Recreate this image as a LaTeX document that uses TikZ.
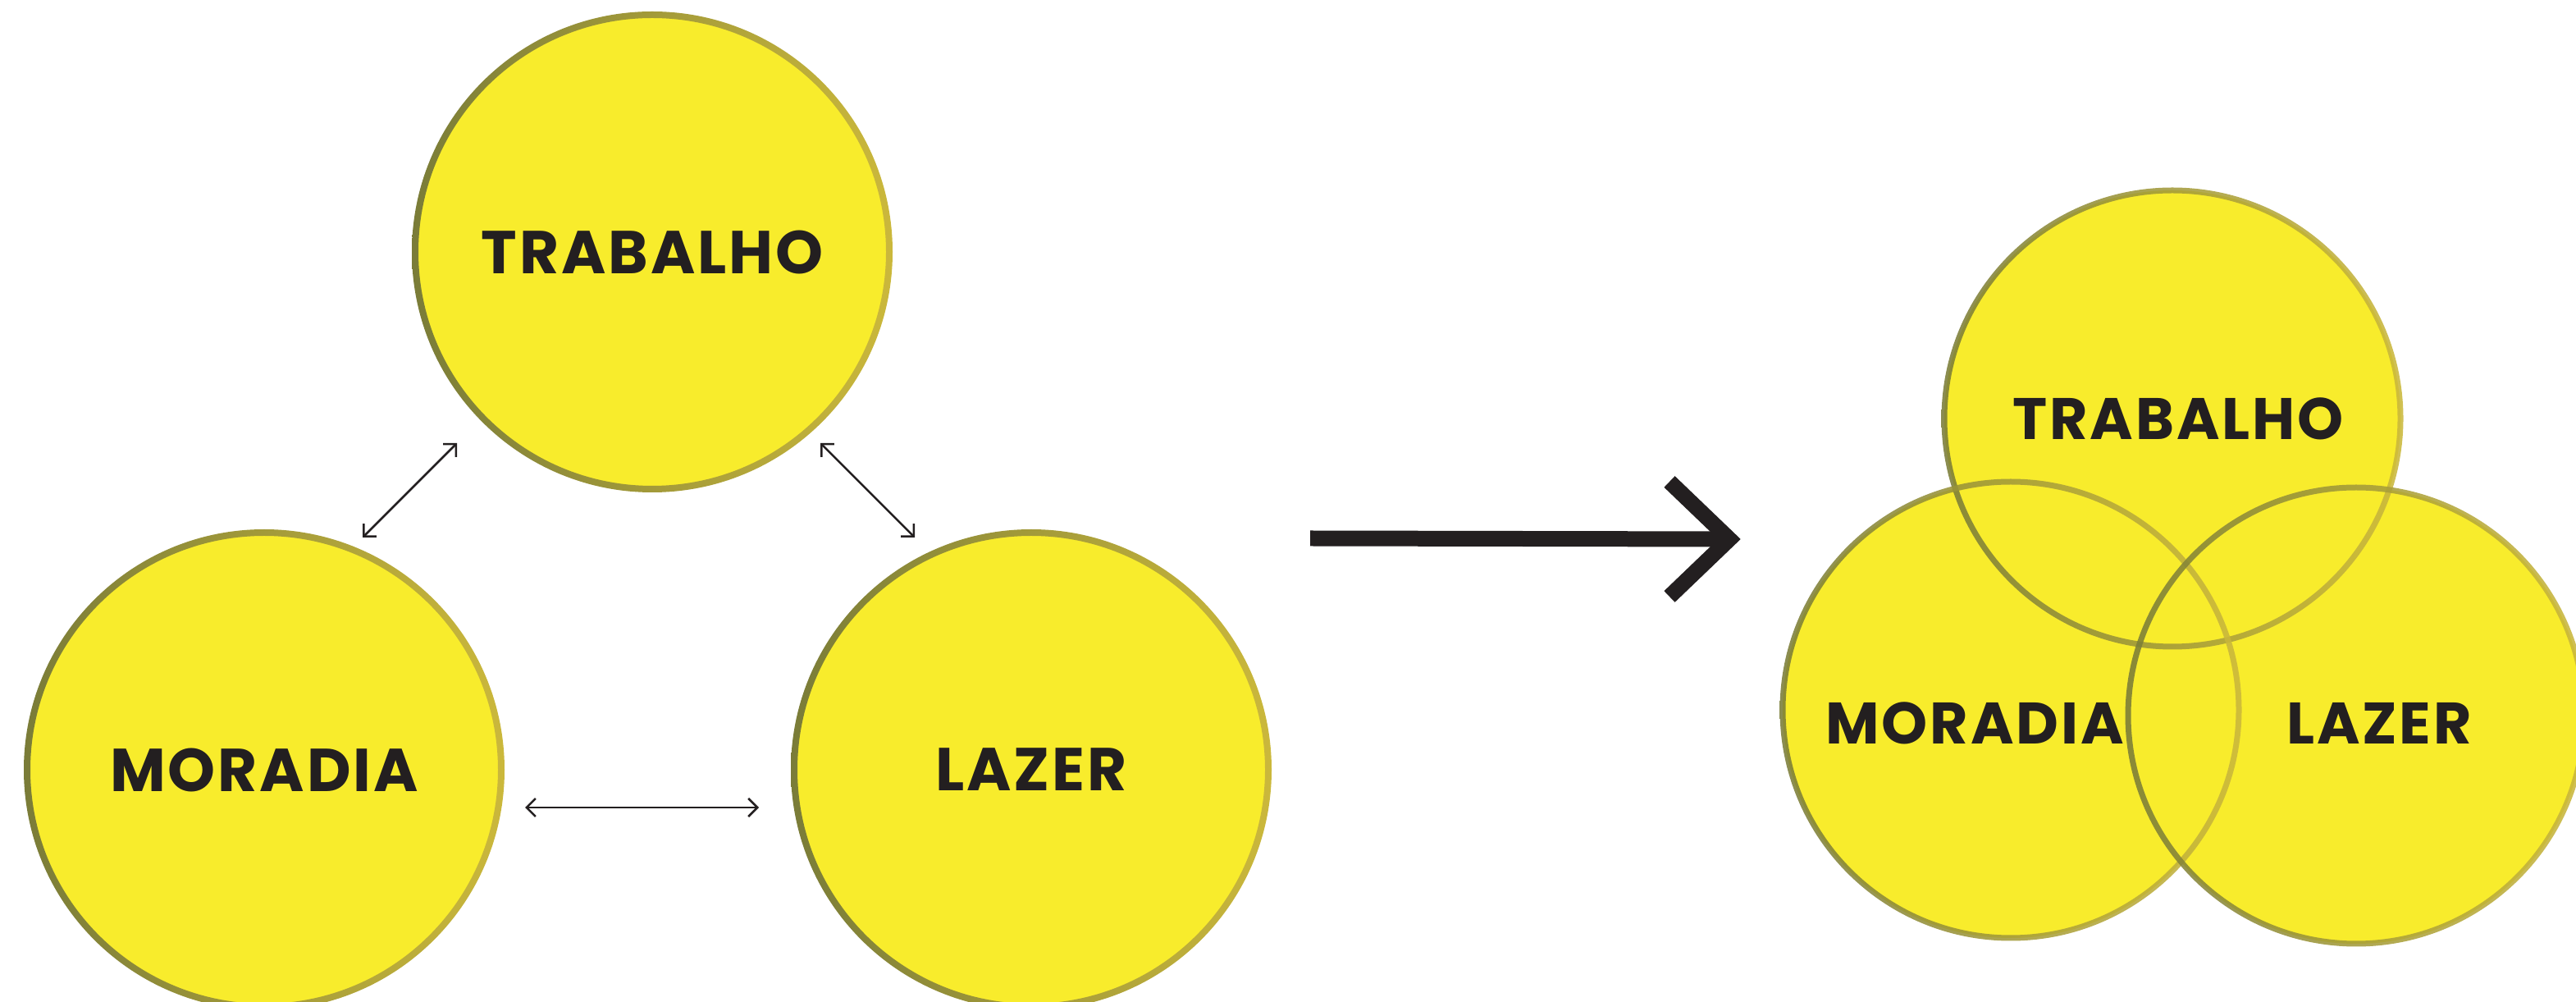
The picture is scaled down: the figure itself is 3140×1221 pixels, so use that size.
\documentclass[tikz,border=0pt]{standalone}
\usepackage{fontspec}
\usepackage{tikz}
\usetikzlibrary{arrows.meta,calc}
\newfontfamily\tagfont{Poppins}[LetterSpace=4]
\definecolor{sun}{HTML}{F8EC2C}
\definecolor{rimdark}{HTML}{7A7C38}
\definecolor{rimlight}{HTML}{CBB83B}
\definecolor{ink}{HTML}{231F20}
\tikzstyle{bubble}=[circle, fill=sun, inner sep=0pt, minimum size=57.8mm, text=ink, font=\tagfont\bfseries\fontsize{21}{21}\selectfont]
\tikzstyle{venn}=[circle, fill=sun, inner sep=0pt, minimum size=55.6mm]
\tikzstyle{tag}=[text=ink, inner sep=0pt, font=\tagfont\bfseries\fontsize{20.3}{20.3}\selectfont]
\tikzstyle{rimshade}=[left color=rimdark, right color=rimlight, even odd rule]
\tikzstyle{link}=[draw=ink, line width=0.25mm, {Straight Barb[length=1.1mm,width=2.2mm]}-{Straight Barb[length=1.1mm,width=2.2mm]}]
\tikzstyle{bigline}=[draw=ink, line width=1.9mm]
\newcommand{\rim}[4]{
 \shade[rimshade, #1] (#2) circle[radius=#3] (#2) circle[radius=#4];
}

\begin{document}
\begin{tikzpicture}[x=0.1mm, y=-0.1mm]
 \useasboundingbox (0,0) rectangle (3140,1221);
%
 \node[bubble] (trab) at (795,307) {TRABALHO};
 \node[bubble] (mor) at (322,938) {MORADIA};
 \node[bubble] (laz) at (1257,938) {LAZER};
 \rim{}{trab.center}{29.3mm}{28.5mm}
 \rim{}{mor.center}{29.3mm}{28.5mm}
 \rim{}{laz.center}{29.3mm}{28.5mm}
%
 \coordinate (tm) at (557,540);
 \coordinate (mt) at (442,655);
 \coordinate (tl) at (1000,540);
 \coordinate (lt) at (1115,655);
 \coordinate (ml) at (640,984);
 \coordinate (lm) at (925,984);
 \draw[link] (mt) -- (tm);
 \draw[link] (tl) -- (lt);
 \draw[link] (ml) -- (lm);
%
 \coordinate (go) at (1597,656);
 \coordinate (tip) at (2108,657);
 \draw[bigline] (go) -- (tip);
 \draw[bigline, line join=miter] ($(tip)+(-73,-70)$) -- (tip) -- ($(tip)+(-73,70)$);
%
 \node[venn] (vt) at (2648,510) {};
 \node[venn] (vm) at (2451,865) {};
 \node[venn] (vl) at (2872,872) {};
 \rim{fill opacity=.88}{vt.center}{28.15mm}{27.45mm}
 \rim{fill opacity=.88}{vm.center}{28.15mm}{27.45mm}
 \rim{fill opacity=.88}{vl.center}{28.15mm}{27.45mm}
 \node[tag] (vtt) at (2655,510) {TRABALHO};
 \node[tag] (vmt) at (2407,881) {MORADIA};
 \node[tag] (vlt) at (2900,881) {LAZER};
\end{tikzpicture}
\end{document}
